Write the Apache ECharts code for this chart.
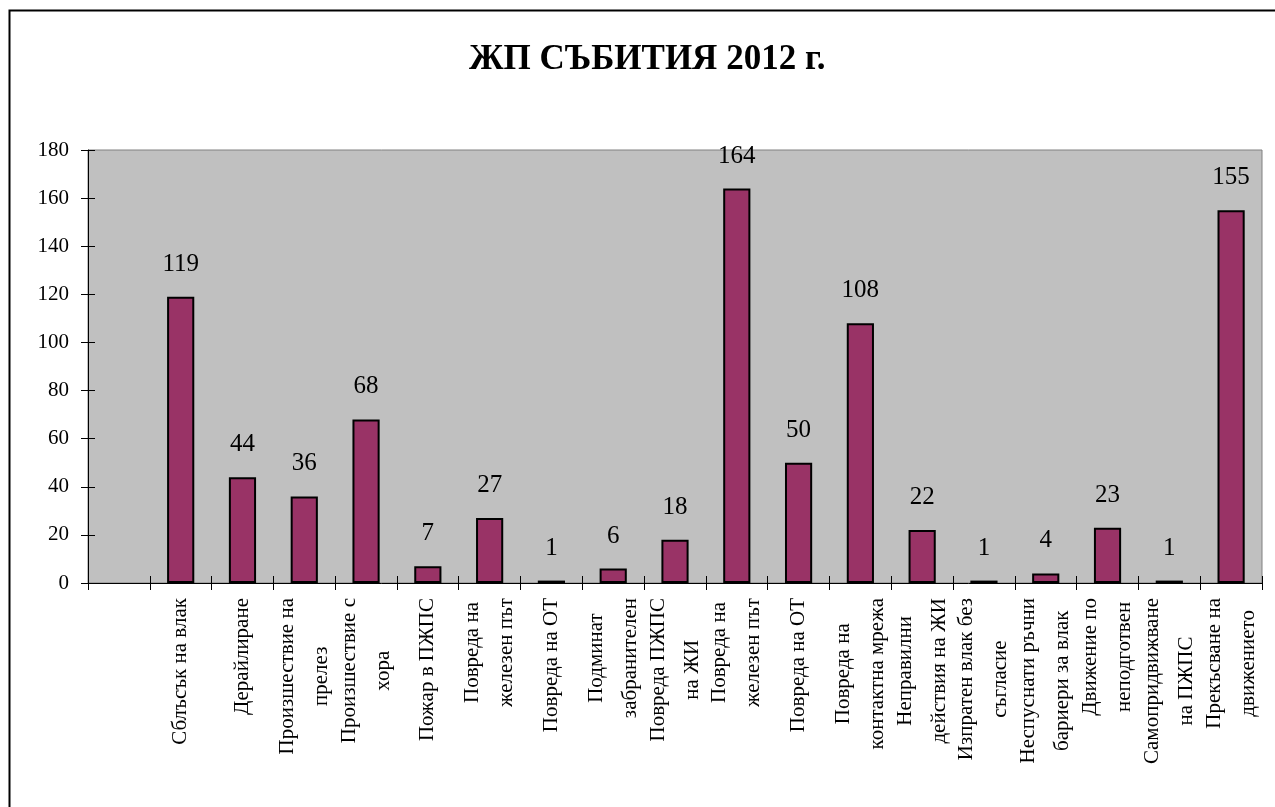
<!DOCTYPE html>
<html>
<head>
<meta charset="utf-8">
<title>ЖП СЪБИТИЯ 2012 г.</title>
<script src="https://cdn.jsdelivr.net/npm/echarts@6/dist/echarts.min.js"></script>
<style>
  html, body { margin: 0; padding: 0; background: #fff; }
  #main { width: 1275px; height: 807px; }
</style>
</head>
<body>
<div id="main"></div>
<script>
// first slot is empty in the original chart
var categories = [
  '',
  'Сблъсък на влак',
  'Дерайлиране',
  'Произшествие на\nпрелез',
  'Произшествие с\nхора',
  'Пожар в ПЖПС',
  'Повреда на\nжелезен път',
  'Повреда на ОТ',
  'Подминат\nзабранителен',
  'Повреда ПЖПС\nна ЖИ',
  'Повреда на\nжелезен път',
  'Повреда на ОТ',
  'Повреда на\nконтактна мрежа',
  'Неправилни\nдействия на ЖИ',
  'Изпратен влак без\nсъгласие',
  'Неспуснати ръчни\nбариери за влак',
  'Движение по\nнеподготвен',
  'Самопридвижване\nна ПЖПС',
  'Прекъсване на\nдвижението'
];
var values = [null, 119, 44, 36, 68, 7, 27, 1, 6, 18, 164, 50, 108, 22, 1, 4, 23, 1, 155];
var yMin = 0, yMax = 180, yStep = 20;

var serif = '"Liberation Serif", "Times New Roman", serif';

var chart = echarts.init(document.getElementById('main'));
var option = {
  backgroundColor: '#fff',
  animation: false,
  title: {
    text: 'ЖП СЪБИТИЯ 2012 г.',
    left: 464,
    top: 37,
    textStyle: { fontFamily: serif, fontSize: 35, fontWeight: 'bold', color: '#000' }
  },
  graphic: [{
    type: 'rect',
    left: 7, top: 8,
    shape: { width: 1320, height: 900 },
    style: { fill: 'none', stroke: '#000', lineWidth: 2 },
    z: -1
  }],
  grid: {
    left: 88, right: 13, top: 150, bottom: 224,
    show: true,
    backgroundColor: '#C0C0C0',
    borderColor: '#808080',
    borderWidth: 1
  },
  xAxis: [{
    type: 'category',
    data: categories,
    boundaryGap: true,
    axisLine: { lineStyle: { color: '#000', width: 1 } },
    axisTick: { show: true, interval: 0, length: 7, lineStyle: { color: '#000' } },
    axisLabel: {
      interval: 0,
      rotate: 90,
      margin: 15,
      color: '#000',
      fontFamily: serif,
      fontSize: 21,
      formatter: function (v) {
        if (!v) return '';
        return v.split('\n').map(function (s) { return '{c|' + s + '}'; }).join('\n');
      },
      rich: {
        c: { align: 'center', fontFamily: serif, fontSize: 21, lineHeight: 34, color: '#000' }
      }
    }
  }, {
    // inner half of the crossing ticks
    type: 'category',
    data: categories,
    position: 'bottom',
    boundaryGap: true,
    axisLine: { show: false },
    axisTick: { show: true, inside: true, interval: 0, length: 7, lineStyle: { color: '#000' } },
    axisLabel: { show: false }
  }],
  yAxis: [{
    type: 'value',
    min: yMin, max: yMax, interval: yStep,
    axisLine: { show: true, lineStyle: { color: '#000', width: 1 } },
    axisTick: { show: true, length: 7, lineStyle: { color: '#000' } },
    splitLine: { show: false },
    axisLabel: { color: '#000', fontFamily: serif, fontSize: 21, margin: 19 }
  }, {
    type: 'value',
    position: 'left',
    min: yMin, max: yMax, interval: yStep,
    axisLine: { show: false },
    axisTick: { show: true, inside: true, length: 7, lineStyle: { color: '#000' } },
    splitLine: { show: false },
    axisLabel: { show: false }
  }],
  series: [{
    type: 'bar',
    data: values,
    barWidth: '44%',
    itemStyle: { color: '#993366', borderColor: '#000', borderWidth: 2 },
    label: {
      show: true,
      position: 'top',
      distance: 20,
      color: '#000',
      fontFamily: serif,
      fontSize: 25
    }
  }]
};
chart.setOption(option);
</script>
</body>
</html>
